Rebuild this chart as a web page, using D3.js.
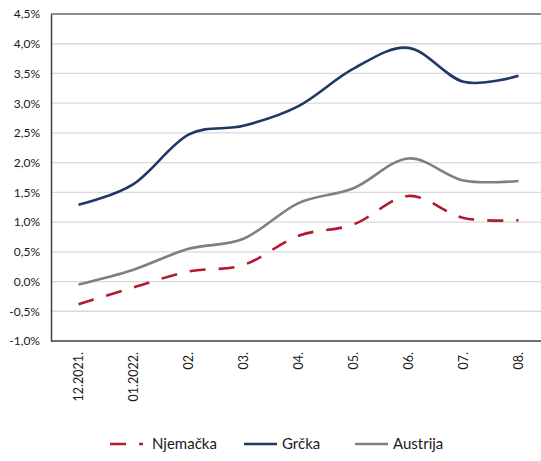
<!DOCTYPE html>
<html><head><meta charset="utf-8">
<script src="https://cdn.jsdelivr.net/npm/d3@7"></script>
<style>body{margin:0;background:#fff;} svg{display:block;font-family:Lato,"Noto Sans",sans-serif;}</style>
</head><body>
<svg id="c" width="541" height="461"></svg>
<script>
const categories = ["12.2021.","01.2022.","02.","03.","04.","05.","06.","07.","08."];
const njemacka = [-0.38,-0.10,0.17,0.28,0.77,0.96,1.44,1.07,1.03];
const grcka = [1.29,1.64,2.47,2.62,2.95,3.58,3.93,3.36,3.46];
const austrija = [-0.05,0.20,0.55,0.72,1.32,1.57,2.07,1.70,1.69];
const yTicks = [-1.0,-0.5,0,0.5,1.0,1.5,2.0,2.5,3.0,3.5,4.0,4.5];
const seriesNames = ["Njemačka","Grčka","Austrija"];

(function(){
const svg = d3.select("#c");
const mLeft = 51, mTop = 14, mBottom = 341, step = 55;
const x = d3.scalePoint().domain(categories).range([mLeft + step/2, mLeft + step/2 + step*(categories.length-1)]);
const y = d3.scaleLinear().domain([-1.0, 4.5]).range([mBottom, mTop]);
const fmt = v => d3.format(".1f")(v).replace(".", ",").replace("\u2212", "-") + "%";

// gridlines
svg.append("g").selectAll("line").data(yTicks.filter(v => v > -1 && v < 4.5)).join("line")
  .attr("x1", mLeft).attr("x2", 541).attr("y1", d => y(d)).attr("y2", d => y(d))
  .attr("stroke", "#d9d9d9").attr("stroke-width", 1.3);

// top border
svg.append("line").attr("x1", mLeft).attr("x2", 541).attr("y1", y(4.5)).attr("y2", y(4.5))
  .attr("stroke", "#1a1a1a").attr("stroke-width", 1);

// y axis
const yAxis = svg.append("g").attr("transform", `translate(${mLeft},0)`)
  .call(d3.axisLeft(y).tickValues(yTicks).tickFormat(fmt).tickSize(0).tickPadding(11));
yAxis.select(".domain").attr("stroke", "#404040").attr("stroke-width", 1.5);
yAxis.selectAll("text").attr("font-size", 12).attr("fill", "#1a1a1a").attr("font-family", "Lato, 'Noto Sans', sans-serif");

// x axis
svg.append("line").attr("x1", mLeft).attr("x2", 541).attr("y1", mBottom).attr("y2", mBottom)
  .attr("stroke", "#404040").attr("stroke-width", 1.5);
const xAxis = svg.append("g").attr("transform", `translate(0,${mBottom})`)
  .call(d3.axisBottom(x).tickSize(0).tickPadding(0));
xAxis.select(".domain").remove();
xAxis.selectAll("text").attr("font-size", 12.5).attr("fill", "#1a1a1a")
  .attr("font-family", "Lato, 'Noto Sans', sans-serif")
  .attr("transform", "rotate(-90)").attr("text-anchor", "end")
  .attr("x", -11).attr("y", 0).attr("dy", "0.35em");

const line = d3.line().x((d,i) => x(categories[i])).y(d => y(d)).curve(d3.curveCardinal.tension(0));
const styles = [
  {data: njemacka, color: "#b01c2e", dash: "16,13"},
  {data: grcka, color: "#1f3864", dash: null},
  {data: austrija, color: "#7f7f7f", dash: null}
];
[2,0,1].forEach(k => {
  const s = styles[k];
  svg.append("path").datum(s.data).attr("d", line).attr("fill", "none")
    .attr("stroke", s.color).attr("stroke-width", 2.6)
    .attr("stroke-dasharray", s.dash).attr("stroke-linecap", "butt");
});

// legend
const legendX = [110, 244, 355];
const lg = svg.append("g");
seriesNames.forEach((n, i) => {
  const s = styles[i];
  lg.append("line").attr("x1", legendX[i]).attr("x2", legendX[i] + 33).attr("y1", 444).attr("y2", 444)
    .attr("stroke", s.color).attr("stroke-width", 2.6).attr("stroke-dasharray", s.dash);
  lg.append("text").attr("x", legendX[i] + (i === 0 ? 42 : 38)).attr("y", 444).attr("dy", "0.35em")
    .attr("font-size", 15).attr("fill", "#1a1a1a").text(n);
});
})();
</script>
</body></html>
